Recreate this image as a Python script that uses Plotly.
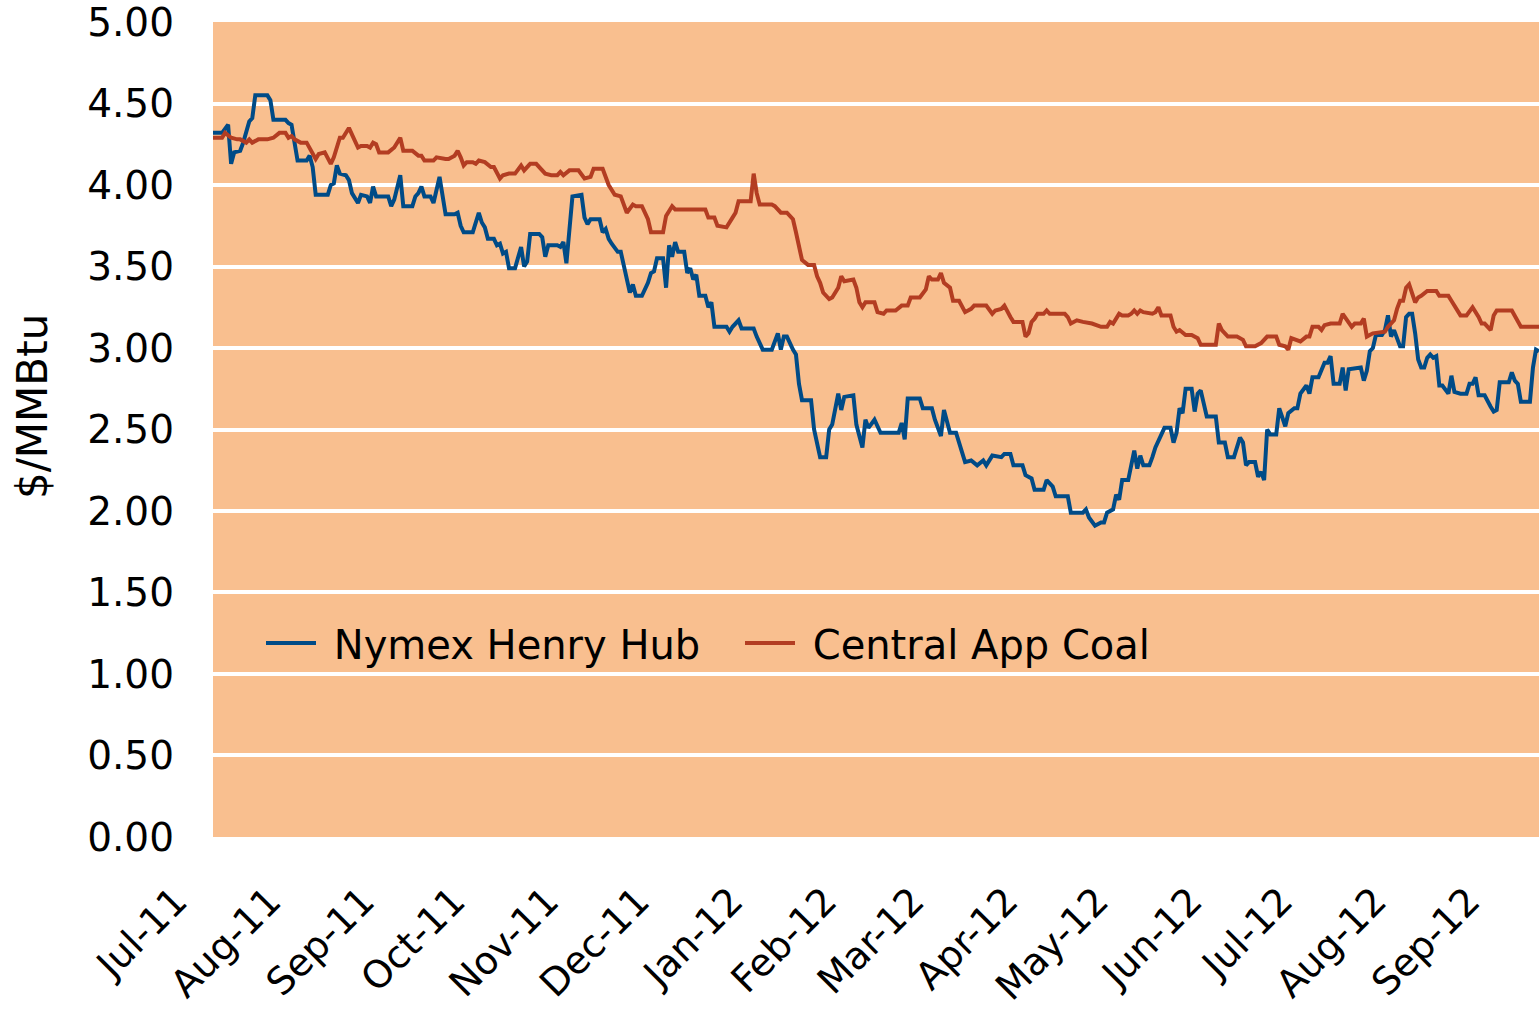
import plotly.graph_objects as go

# Nymex Henry Hub natural gas price, $/MMBtu
henry_dates = [
    "2011-07-01", "2011-07-04", "2011-07-06", "2011-07-07", "2011-07-08", "2011-07-10", "2011-07-11",
    "2011-07-13", "2011-07-14", "2011-07-15", "2011-07-19", "2011-07-20", "2011-07-21", "2011-07-25",
    "2011-07-26", "2011-07-27", "2011-07-29", "2011-08-01", "2011-08-02", "2011-08-03", "2011-08-04",
    "2011-08-08", "2011-08-09", "2011-08-10", "2011-08-11", "2011-08-12", "2011-08-14", "2011-08-15",
    "2011-08-16", "2011-08-18", "2011-08-19", "2011-08-21", "2011-08-22", "2011-08-23", "2011-08-24",
    "2011-08-28", "2011-08-29", "2011-08-30", "2011-09-01", "2011-09-02", "2011-09-05", "2011-09-06",
    "2011-09-07", "2011-09-08", "2011-09-09", "2011-09-11", "2011-09-12", "2011-09-14", "2011-09-16",
    "2011-09-19", "2011-09-20", "2011-09-21", "2011-09-22", "2011-09-25", "2011-09-27", "2011-09-28",
    "2011-09-29", "2011-09-30", "2011-10-02", "2011-10-03", "2011-10-04", "2011-10-05", "2011-10-06",
    "2011-10-07", "2011-10-09", "2011-10-11", "2011-10-12", "2011-10-13", "2011-10-14", "2011-10-17",
    "2011-10-18", "2011-10-19", "2011-10-20", "2011-10-23", "2011-10-24", "2011-10-25", "2011-10-26",
    "2011-10-28", "2011-10-31", "2011-11-01", "2011-11-02", "2011-11-03", "2011-11-06", "2011-11-07",
    "2011-11-08", "2011-11-09", "2011-11-10", "2011-11-12", "2011-11-13", "2011-11-15", "2011-11-16",
    "2011-11-17", "2011-11-18", "2011-11-20", "2011-11-22", "2011-11-23", "2011-11-24", "2011-11-25",
    "2011-11-27", "2011-11-28", "2011-11-29", "2011-11-30", "2011-12-01", "2011-12-02", "2011-12-04",
    "2011-12-05", "2011-12-06", "2011-12-07", "2011-12-08", "2011-12-09", "2011-12-11", "2011-12-12",
    "2011-12-13", "2011-12-14", "2011-12-18", "2011-12-19", "2011-12-20", "2011-12-22", "2011-12-23",
    "2011-12-27", "2011-12-28", "2011-12-30", "2012-01-02", "2012-01-04", "2012-01-05", "2012-01-06",
    "2012-01-07", "2012-01-09", "2012-01-10", "2012-01-11", "2012-01-12", "2012-01-15", "2012-01-16",
    "2012-01-18", "2012-01-20", "2012-01-21", "2012-01-22", "2012-01-24", "2012-01-25", "2012-01-26",
    "2012-01-29", "2012-01-30", "2012-02-01", "2012-02-02", "2012-02-03", "2012-02-05", "2012-02-07",
    "2012-02-13", "2012-02-14", "2012-02-15", "2012-02-16", "2012-02-20", "2012-02-21", "2012-02-24",
    "2012-02-25", "2012-02-27", "2012-02-28", "2012-03-01", "2012-03-03", "2012-03-05", "2012-03-06",
    "2012-03-08", "2012-03-10", "2012-03-12", "2012-03-13", "2012-03-15", "2012-03-18", "2012-03-19",
    "2012-03-21", "2012-03-22", "2012-03-25", "2012-03-26", "2012-03-28", "2012-03-29", "2012-04-01",
    "2012-04-02", "2012-04-04", "2012-04-05", "2012-04-09", "2012-04-10", "2012-04-14", "2012-04-15",
    "2012-04-16", "2012-04-18", "2012-04-20", "2012-04-21", "2012-04-22", "2012-04-24", "2012-04-25",
    "2012-04-26", "2012-04-27", "2012-04-29", "2012-05-01", "2012-05-02", "2012-05-03", "2012-05-04",
    "2012-05-06", "2012-05-07", "2012-05-08", "2012-05-10", "2012-05-11", "2012-05-13", "2012-05-14",
    "2012-05-15", "2012-05-16", "2012-05-17", "2012-05-18", "2012-05-20", "2012-05-21", "2012-05-22",
    "2012-05-23", "2012-05-24", "2012-05-25", "2012-05-28", "2012-05-29", "2012-05-31", "2012-06-01",
    "2012-06-03", "2012-06-05", "2012-06-06", "2012-06-07", "2012-06-08", "2012-06-10", "2012-06-11",
    "2012-06-12", "2012-06-13", "2012-06-14", "2012-06-15", "2012-06-17", "2012-06-18", "2012-06-20",
    "2012-06-21", "2012-06-23", "2012-06-24", "2012-06-25", "2012-06-27", "2012-06-28", "2012-06-29",
    "2012-07-01", "2012-07-03", "2012-07-04", "2012-07-05", "2012-07-06", "2012-07-08", "2012-07-09",
    "2012-07-10", "2012-07-11", "2012-07-15", "2012-07-16", "2012-07-17", "2012-07-18", "2012-07-19",
    "2012-07-20", "2012-07-22", "2012-07-23", "2012-07-24", "2012-07-25", "2012-07-26", "2012-07-27",
    "2012-07-28", "2012-07-29", "2012-07-30", "2012-07-31", "2012-08-01", "2012-08-02", "2012-08-03",
    "2012-08-04", "2012-08-05", "2012-08-06", "2012-08-07", "2012-08-08", "2012-08-09", "2012-08-10",
    "2012-08-11", "2012-08-13", "2012-08-14", "2012-08-15", "2012-08-17", "2012-08-19", "2012-08-20",
    "2012-08-21", "2012-08-22", "2012-08-23", "2012-08-25", "2012-08-27", "2012-08-28", "2012-08-29",
    "2012-08-30", "2012-09-02", "2012-09-03", "2012-09-04", "2012-09-05", "2012-09-06", "2012-09-09",
    "2012-09-10", "2012-09-11", "2012-09-12",
]
henry_values = [
    4.32, 4.32, 4.37, 4.13, 4.20, 4.21, 4.26,
    4.39, 4.41, 4.55, 4.55, 4.52, 4.40, 4.40,
    4.38, 4.37, 4.15, 4.15, 4.18, 4.11, 3.94,
    3.94, 4.00, 4.01, 4.12, 4.07, 4.06, 4.03,
    3.95, 3.89, 3.94, 3.93, 3.89, 3.99, 3.93,
    3.93, 3.87, 3.91, 4.06, 3.87, 3.87, 3.93,
    3.95, 3.99, 3.93, 3.93, 3.89, 4.05, 3.82,
    3.82, 3.83, 3.75, 3.71, 3.71, 3.83, 3.77,
    3.74, 3.67, 3.67, 3.63, 3.64, 3.58, 3.59,
    3.49, 3.49, 3.62, 3.50, 3.53, 3.70, 3.70,
    3.68, 3.56, 3.63, 3.63, 3.62, 3.65, 3.52,
    3.93, 3.94, 3.80, 3.76, 3.79, 3.79, 3.71,
    3.73, 3.67, 3.64, 3.59, 3.59, 3.42, 3.34,
    3.39, 3.32, 3.32, 3.40, 3.46, 3.47, 3.55,
    3.55, 3.37, 3.63, 3.56, 3.65, 3.59, 3.59,
    3.46, 3.49, 3.42, 3.45, 3.32, 3.32, 3.25,
    3.28, 3.13, 3.13, 3.10, 3.13, 3.17, 3.12,
    3.12, 3.07, 2.99, 2.99, 3.09, 2.99, 3.07,
    3.07, 2.99, 2.96, 2.78, 2.68, 2.68, 2.50,
    2.33, 2.33, 2.50, 2.53, 2.72, 2.62, 2.70,
    2.71, 2.53, 2.39, 2.56, 2.51, 2.56, 2.48,
    2.48, 2.54, 2.44, 2.69, 2.69, 2.63, 2.63,
    2.56, 2.46, 2.62, 2.48, 2.48, 2.36, 2.30,
    2.31, 2.28, 2.31, 2.28, 2.34, 2.33, 2.35,
    2.35, 2.28, 2.28, 2.22, 2.20, 2.13, 2.13,
    2.19, 2.15, 2.09, 2.09, 1.99, 1.99, 2.01,
    1.96, 1.91, 1.93, 1.93, 1.99, 2.01, 2.10,
    2.07, 2.19, 2.19, 2.37, 2.26, 2.34, 2.28,
    2.28, 2.33, 2.39, 2.47, 2.51, 2.51, 2.42,
    2.48, 2.63, 2.60, 2.75, 2.75, 2.61, 2.72,
    2.74, 2.66, 2.58, 2.58, 2.42, 2.42, 2.33,
    2.33, 2.45, 2.42, 2.28, 2.30, 2.30, 2.21,
    2.24, 2.19, 2.50, 2.47, 2.47, 2.63, 2.52,
    2.60, 2.63, 2.63, 2.72, 2.77, 2.72, 2.82,
    2.82, 2.91, 2.91, 2.95, 2.78, 2.78, 2.88,
    2.74, 2.87, 2.88, 2.80, 2.86, 2.98, 3.00,
    3.08, 3.08, 3.11, 3.20, 3.07, 3.11, 3.06,
    3.01, 3.01, 3.19, 3.21, 3.21, 3.09, 2.93,
    2.88, 2.88, 2.94, 2.96, 2.94, 2.95, 2.77,
    2.77, 2.72, 2.83, 2.73, 2.72, 2.72, 2.78,
    2.78, 2.82, 2.71, 2.71, 2.64, 2.61, 2.62,
    2.79, 2.79, 2.85, 2.80, 2.78, 2.67, 2.67,
    2.88, 2.99, 2.98,
]

# Central Appalachian coal price, $/MMBtu
coal_dates = [
    "2011-07-01", "2011-07-04", "2011-07-05", "2011-07-07", "2011-07-09", "2011-07-10", "2011-07-12",
    "2011-07-13", "2011-07-14", "2011-07-16", "2011-07-19", "2011-07-21", "2011-07-23", "2011-07-25",
    "2011-07-26", "2011-07-27", "2011-07-28", "2011-07-30", "2011-08-01", "2011-08-02", "2011-08-03",
    "2011-08-04", "2011-08-05", "2011-08-07", "2011-08-09", "2011-08-10", "2011-08-12", "2011-08-13",
    "2011-08-15", "2011-08-16", "2011-08-18", "2011-08-19", "2011-08-21", "2011-08-22", "2011-08-23",
    "2011-08-24", "2011-08-25", "2011-08-28", "2011-08-30", "2011-09-01", "2011-09-02", "2011-09-05",
    "2011-09-07", "2011-09-08", "2011-09-09", "2011-09-12", "2011-09-13", "2011-09-16", "2011-09-17",
    "2011-09-19", "2011-09-20", "2011-09-21", "2011-09-22", "2011-09-23", "2011-09-25", "2011-09-26",
    "2011-09-27", "2011-09-29", "2011-10-01", "2011-10-02", "2011-10-04", "2011-10-05", "2011-10-07",
    "2011-10-09", "2011-10-11", "2011-10-12", "2011-10-14", "2011-10-16", "2011-10-17", "2011-10-19",
    "2011-10-21", "2011-10-23", "2011-10-24", "2011-10-25", "2011-10-27", "2011-10-30", "2011-11-01",
    "2011-11-03", "2011-11-04", "2011-11-07", "2011-11-09", "2011-11-11", "2011-11-13", "2011-11-15",
    "2011-11-17", "2011-11-18", "2011-11-20", "2011-11-22", "2011-11-23", "2011-11-27", "2011-11-28",
    "2011-11-30", "2011-12-01", "2011-12-11", "2011-12-12", "2011-12-14", "2011-12-15", "2011-12-18",
    "2011-12-20", "2011-12-21", "2011-12-22", "2011-12-26", "2011-12-27", "2011-12-28", "2011-12-29",
    "2011-12-30", "2012-01-02", "2012-01-03", "2012-01-05", "2012-01-07", "2012-01-09", "2012-01-10",
    "2012-01-11", "2012-01-12", "2012-01-14", "2012-01-16", "2012-01-17", "2012-01-18", "2012-01-19",
    "2012-01-21", "2012-01-22", "2012-01-24", "2012-01-25", "2012-01-26", "2012-01-29", "2012-01-30",
    "2012-01-31", "2012-02-01", "2012-02-02", "2012-02-05", "2012-02-06", "2012-02-08", "2012-02-09",
    "2012-02-12", "2012-02-14", "2012-02-16", "2012-02-17", "2012-02-20", "2012-02-22", "2012-02-23",
    "2012-02-24", "2012-02-26", "2012-02-27", "2012-02-28", "2012-03-01", "2012-03-02", "2012-03-04",
    "2012-03-05", "2012-03-06", "2012-03-08", "2012-03-09", "2012-03-13", "2012-03-15", "2012-03-16",
    "2012-03-18", "2012-03-19", "2012-03-20", "2012-03-21", "2012-03-22", "2012-03-25", "2012-03-26",
    "2012-03-27", "2012-03-28", "2012-03-29", "2012-03-30", "2012-04-01", "2012-04-02", "2012-04-03",
    "2012-04-08", "2012-04-09", "2012-04-10", "2012-04-12", "2012-04-14", "2012-04-17", "2012-04-20",
    "2012-04-22", "2012-04-23", "2012-04-24", "2012-04-26", "2012-04-27", "2012-04-29", "2012-04-30",
    "2012-05-01", "2012-05-02", "2012-05-03", "2012-05-04", "2012-05-07", "2012-05-08", "2012-05-09",
    "2012-05-10", "2012-05-13", "2012-05-14", "2012-05-15", "2012-05-16", "2012-05-18", "2012-05-20",
    "2012-05-22", "2012-05-23", "2012-05-28", "2012-05-29", "2012-05-30", "2012-06-01", "2012-06-04",
    "2012-06-06", "2012-06-07", "2012-06-10", "2012-06-12", "2012-06-14", "2012-06-17", "2012-06-18",
    "2012-06-20", "2012-06-21", "2012-06-22", "2012-06-24", "2012-06-25", "2012-06-27", "2012-06-28",
    "2012-06-29", "2012-07-01", "2012-07-02", "2012-07-03", "2012-07-05", "2012-07-08", "2012-07-09",
    "2012-07-10", "2012-07-12", "2012-07-13", "2012-07-15", "2012-07-16", "2012-07-17", "2012-07-19",
    "2012-07-23", "2012-07-24", "2012-07-26", "2012-07-27", "2012-07-28", "2012-07-29", "2012-07-30",
    "2012-07-31", "2012-08-02", "2012-08-03", "2012-08-04", "2012-08-06", "2012-08-09", "2012-08-10",
    "2012-08-13", "2012-08-14", "2012-08-15", "2012-08-17", "2012-08-19", "2012-08-21", "2012-08-23",
    "2012-08-24", "2012-08-25", "2012-08-27", "2012-08-28", "2012-08-29", "2012-09-03", "2012-09-05",
    "2012-09-06", "2012-09-12",
]
coal_values = [
    4.29, 4.29, 4.32, 4.29, 4.28, 4.28, 4.26,
    4.28, 4.26, 4.28, 4.28, 4.29, 4.32, 4.32,
    4.29, 4.30, 4.28, 4.26, 4.26, 4.23, 4.20,
    4.16, 4.19, 4.20, 4.13, 4.17, 4.29, 4.29,
    4.35, 4.31, 4.23, 4.24, 4.24, 4.23, 4.26,
    4.25, 4.20, 4.20, 4.23, 4.29, 4.21, 4.21,
    4.18, 4.18, 4.15, 4.15, 4.17, 4.16, 4.16,
    4.18, 4.21, 4.17, 4.12, 4.14, 4.14, 4.13,
    4.15, 4.14, 4.11, 4.11, 4.04, 4.06, 4.07,
    4.07, 4.12, 4.09, 4.13, 4.13, 4.11, 4.07,
    4.06, 4.06, 4.08, 4.06, 4.09, 4.09, 4.04,
    4.05, 4.10, 4.10, 4.00, 3.94, 3.93, 3.83,
    3.88, 3.87, 3.87, 3.79, 3.71, 3.71, 3.81,
    3.87, 3.85, 3.85, 3.80, 3.80, 3.75, 3.74,
    3.80, 3.83, 3.90, 3.90, 4.07, 3.95, 3.88,
    3.88, 3.88, 3.87, 3.83, 3.83, 3.79, 3.71,
    3.62, 3.54, 3.51, 3.51, 3.44, 3.40, 3.34,
    3.30, 3.31, 3.37, 3.44, 3.41, 3.42, 3.37,
    3.28, 3.25, 3.28, 3.28, 3.22, 3.21, 3.23,
    3.23, 3.26, 3.26, 3.31, 3.31, 3.36, 3.44,
    3.42, 3.42, 3.46, 3.40, 3.37, 3.29, 3.29,
    3.25, 3.22, 3.24, 3.26, 3.26, 3.21, 3.23,
    3.24, 3.26, 3.22, 3.19, 3.16, 3.16, 3.07,
    3.09, 3.16, 3.18, 3.21, 3.21, 3.23, 3.21,
    3.21, 3.19, 3.15, 3.17, 3.16, 3.15, 3.13,
    3.13, 3.16, 3.15, 3.21, 3.20, 3.20, 3.21,
    3.23, 3.21, 3.23, 3.22, 3.21, 3.22, 3.25,
    3.20, 3.20, 3.13, 3.10, 3.11, 3.08, 3.08,
    3.06, 3.02, 3.02, 3.15, 3.11, 3.07, 3.07,
    3.05, 3.01, 3.01, 3.03, 3.07, 3.07, 3.02,
    3.01, 2.99, 3.06, 3.05, 3.04, 3.07, 3.07,
    3.13, 3.13, 3.11, 3.14, 3.15, 3.15, 3.21,
    3.18, 3.13, 3.15, 3.15, 3.18, 3.07, 3.09,
    3.10, 3.13, 3.17, 3.24, 3.29, 3.29, 3.37,
    3.39, 3.28, 3.31, 3.32, 3.35, 3.35, 3.32,
    3.32, 3.29, 3.26, 3.20, 3.20, 3.25, 3.19,
    3.15, 3.15, 3.11, 3.20, 3.23, 3.23, 3.17,
    3.13, 3.13,
]

# Axis ticks
month_ticks = ["2011-07-01", "2011-08-01", "2011-09-01", "2011-10-01", "2011-11-01",
               "2011-12-01", "2012-01-01", "2012-02-01", "2012-03-01", "2012-04-01",
               "2012-05-01", "2012-06-01", "2012-07-01", "2012-08-01", "2012-09-01"]
month_labels = ["Jul-11", "Aug-11", "Sep-11", "Oct-11", "Nov-11", "Dec-11", "Jan-12",
                "Feb-12", "Mar-12", "Apr-12", "May-12", "Jun-12", "Jul-12", "Aug-12", "Sep-12"]
price_ticks = [0, 0.5, 1.0, 1.5, 2.0, 2.5, 3.0, 3.5, 4.0, 4.5, 5.0]
price_labels = ["0.00", "0.50", "1.00", "1.50", "2.00", "2.50", "3.00", "3.50", "4.00", "4.50", "5.00"]

PANEL = "#F9BF8F"
FONT = "DejaVu Sans"
NBSP = "\u00a0"

fig = go.Figure()
fig.add_trace(go.Scatter(x=henry_dates, y=henry_values, mode="lines",
                         name=NBSP + "Nymex Henry Hub",
                         line=dict(color="#004B87", width=4)))
fig.add_trace(go.Scatter(x=coal_dates, y=coal_values, mode="lines",
                         name=NBSP + "Central App Coal",
                         line=dict(color="#B33D22", width=4)))

# Legend panel: hides the gridlines behind the legend entries
fig.add_shape(type="rect", xref="paper", yref="paper",
              x0=(247 - 213) / 1326, x1=(1175 - 213) / 1326,
              y0=(837 - 700) / 815, y1=(837 - 582) / 815,
              fillcolor=PANEL, line=dict(width=0), layer="between")

fig.update_layout(
    width=1539, height=1009,
    margin=dict(l=213, r=0, t=22, b=172, autoexpand=False),
    paper_bgcolor="white",
    plot_bgcolor=PANEL,
    font=dict(family=FONT, size=39, color="black"),
    legend=dict(
        orientation="h",
        x=(261 - 213) / 1326, xanchor="left",
        y=(837 - 643) / 815, yanchor="middle",
        bgcolor="rgba(0,0,0,0)",
        font=dict(family=FONT, size=40, color="black"),
        itemwidth=50,
        entrywidth=414,
        tracegroupgap=0,
    ),
    showlegend=True,
    annotations=[dict(
        text="$/MMBtu", textangle=-90, showarrow=False,
        xref="paper", yref="paper",
        x=(32 - 213) / 1326, y=(837 - 407) / 815,
        xanchor="center", yanchor="middle",
        font=dict(family=FONT, size=42, color="black"),
    )],
)

fig.update_xaxes(
    type="date",
    range=["2011-07-01", "2012-09-12"],
    tickmode="array", tickvals=month_ticks, ticktext=month_labels,
    tickangle=-45,
    tickfont=dict(family=FONT, size=38),
    showgrid=False, zeroline=False, showline=False,
    ticks="", ticklabelstandoff=33, ticklabelshift=-37,
    ticklabeloverflow="allow",
    automargin=False,
)

fig.update_yaxes(
    range=[-0.0001, 5.0001],
    tickmode="array", tickvals=price_ticks, ticktext=price_labels,
    tickfont=dict(family=FONT, size=39),
    showgrid=True, gridcolor="white", gridwidth=4,
    zeroline=False, showline=False,
    ticks="", ticklabelstandoff=38,
    ticklabeloverflow="allow",
    automargin=False,
)

fig.write_html("out.html")
